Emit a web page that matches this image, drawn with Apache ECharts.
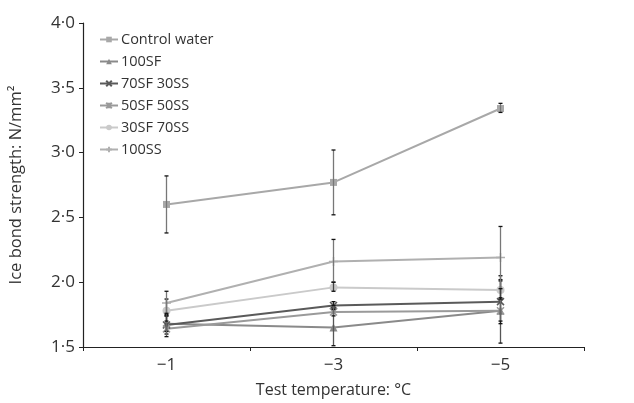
<!DOCTYPE html>
<html><head><meta charset="utf-8">
<script src="https://cdn.jsdelivr.net/npm/echarts@6/dist/echarts.min.js"></script>
<style>html,body{margin:0;padding:0;background:#fff}#c{width:634px;height:403px}</style>
</head><body><div id="c"></div>
<script>
const categories = ['\u22121', '\u22123', '\u22125'];
const seriesNames = ['Control water', '100SF', '70SF 30SS', '50SF 50SS', '30SF 70SS', '100SS'];
const controlWater = [2.60, 2.77, 3.34];
const sf100 = [1.68, 1.65, 1.78];
const sf70ss30 = [1.67, 1.82, 1.85];
const sf50ss50 = [1.64, 1.77, 1.78];
const sf30ss70 = [1.78, 1.96, 1.94];
const ss100 = [1.84, 2.16, 2.19];
const errControl = [[2.38, 2.82], [2.52, 3.02], [3.31, 3.38]];
const err100SF = [[1.60, 1.74], [1.51, 1.79], [1.53, 2.02]];
const err70SF = [[1.62, 1.75], [1.80, 1.85], [1.68, 2.05]];
const err50SF = [[1.58, 1.74], [1.74, 1.82], [1.70, 1.87]];
const err30SF = [[1.70, 1.87], [1.93, 2.00], [1.88, 2.01]];
const err100SS = [[1.76, 1.93], [2.00, 2.33], [1.95, 2.43]];
const yTicks = [1.5, 2.0, 2.5, 3.0, 3.5, 4.0];

const values = [controlWater, sf100, sf70ss30, sf50ss50, sf30ss70, ss100];
const errs = [errControl, err100SF, err70SF, err50SF, err30SF, err100SS];
const colors = ['#a8a8a8', '#8a8a8a', '#5a5a5a', '#9a9a9a', '#cacaca', '#b0b0b0'];
const symbols = ['rect', 'triangle', 'path://M0,0L10,10M10,0L0,10',
  'path://M0,0L10,10M10,0L0,10M5,0L5,10', 'circle', 'path://M5,0L5,10M0,5L10,5'];
const symSizes = [7, 8, 7, 7, 8, 9];
const errColors = ['#777', '#555', '#222', '#666', '#444', '#777'];

const series = [];
values.forEach((v, i) => {
  const isPath = symbols[i].startsWith('path');
  series.push({
    name: seriesNames[i], type: 'line', data: v, symbol: symbols[i], symbolSize: symSizes[i],
    lineStyle: { color: colors[i], width: 2 },
    itemStyle: { color: isPath ? 'none' : colors[i], borderColor: colors[i], borderWidth: isPath ? 1.5 : 0 },
    z: 3
  });
  series.push({
    type: 'custom', z: 4, silent: true,
    data: errs[i].map((e, k) => [k, e[0], e[1]]),
    renderItem: function (params, api) {
      const lo = api.coord([api.value(0), api.value(1)]);
      const hi = api.coord([api.value(0), api.value(2)]);
      const w = 2;
      const st = { stroke: errColors[i], lineWidth: 1.3 };
      return { type: 'group', children: [
        { type: 'line', shape: { x1: lo[0], y1: lo[1], x2: hi[0], y2: hi[1] }, style: st },
        { type: 'line', shape: { x1: lo[0] - w, y1: lo[1], x2: lo[0] + w, y2: lo[1] }, style: { stroke: '#111', lineWidth: 1.3 } },
        { type: 'line', shape: { x1: hi[0] - w, y1: hi[1], x2: hi[0] + w, y2: hi[1] }, style: { stroke: '#111', lineWidth: 1.3 } }
      ]};
    }
  });
});

const chart = echarts.init(document.getElementById('c'), null, { renderer: 'canvas' });
chart.setOption({
  animation: false,
  textStyle: { fontFamily: 'Open Sans' },
  grid: { left: 81, top: 23, right: 50, bottom: 55, containLabel: false },
  legend: {
    orient: 'vertical', left: 94, top: 26, itemGap: 5, itemWidth: 18, itemHeight: 7,
    data: seriesNames,
    textStyle: { fontSize: 14.5, color: '#333', fontFamily: 'Open Sans', padding: [0, 0, 0, -2], lineHeight: 17 }
  },
  xAxis: {
    type: 'category', data: categories, boundaryGap: true,
    name: 'Test temperature: \u00b0C', nameLocation: 'middle', nameGap: 35,
    nameTextStyle: { fontSize: 16, color: '#333' },
    axisLine: { lineStyle: { color: '#222', width: 1.2 } },
    axisTick: { show: true, length: 4, lineStyle: { color: '#222' } },
    axisLabel: { fontSize: 17, color: '#333', margin: 10 },
    splitLine: { show: false }
  },
  yAxis: {
    type: 'value', min: 1.5, max: 4.0, interval: 0.5,
    name: 'Ice bond strength: N/mm\u00b2', nameLocation: 'middle', nameGap: 58,
    nameTextStyle: { fontSize: 16.5, color: '#333' },
    axisLine: { show: true, lineStyle: { color: '#222', width: 1.2 } },
    axisTick: { show: true, length: 4, lineStyle: { color: '#222' } },
    axisLabel: { fontSize: 17, color: '#333', margin: 8,
      formatter: v => yTicks.includes(v) ? v.toFixed(1).replace('.', '\u00b7') : '' },
    splitLine: { show: false }
  },
  series: series
});
</script></body></html>
